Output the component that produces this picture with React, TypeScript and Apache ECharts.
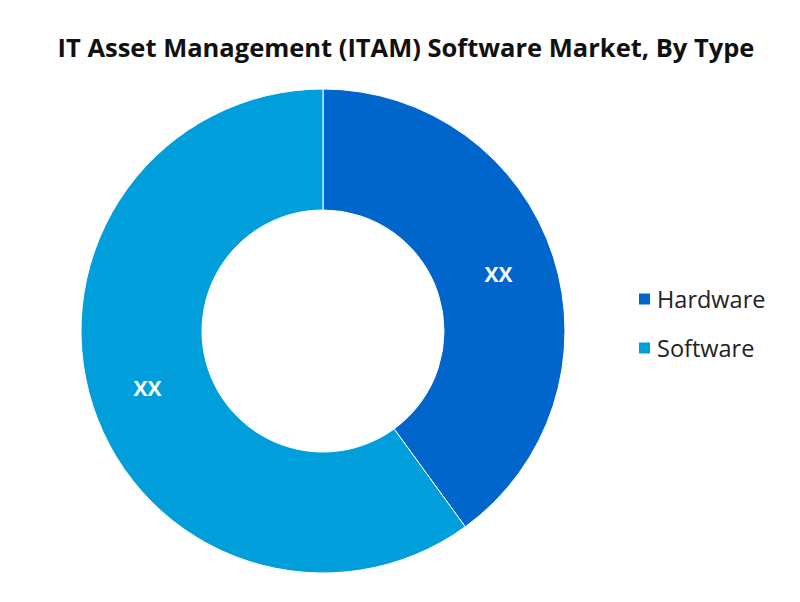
import React, { useEffect, useRef } from "react";
import * as echarts from "echarts";

const categories = ["Hardware", "Software"];
const values = [40, 60];
const labels = ["XX", "XX"];
const colors = ["#0066CC", "#009FDB"];

export default function App() {
  const ref = useRef<HTMLDivElement>(null);
  useEffect(() => {
    if (!ref.current) return;
    const chart = echarts.init(ref.current, null, { renderer: "svg" });
    chart.setOption({
      animation: false,
      backgroundColor: "#ffffff",
      title: {
        text: "IT Asset Management (ITAM) Software Market, By Type",
        left: 401,
        textAlign: "center",
        top: 29,
        textStyle: {
          fontFamily: "Open Sans",
          fontWeight: "bold",
          fontSize: 25.5,
          color: "#111111",
        },
      },
      legend: {
        orient: "vertical",
        left: 632,
        top: 282,
        itemWidth: 13,
        itemHeight: 13,
        itemGap: 25,
        icon: "rect",
        textStyle: {
          fontFamily: "Open Sans",
          fontSize: 23.5,
          color: "#222222",
          padding: [0, 0, 0, 1],
        },
        data: categories,
      },
      series: [
        {
          type: "pie",
          center: [323, 331],
          radius: [121, 242],
          startAngle: 90,
          clockwise: true,
          itemStyle: { borderColor: "#ffffff", borderWidth: 1 },
          label: {
            show: true,
            position: "inside",
            formatter: (p: any) => labels[p.dataIndex],
            color: "#ffffff",
            fontFamily: "Open Sans",
            fontWeight: "bold",
            fontSize: 21,
          },
          labelLine: { show: false },
          emphasis: { disabled: true },
          data: categories.map((name, i) => ({
            name,
            value: values[i],
            itemStyle: { color: colors[i] },
          })),
        },
      ],
    });
    return () => chart.dispose();
  }, []);
  return (
    <div
      ref={ref}
      style={{ position: "fixed", left: 0, top: 0, width: 800, height: 602 }}
    />
  );
}
